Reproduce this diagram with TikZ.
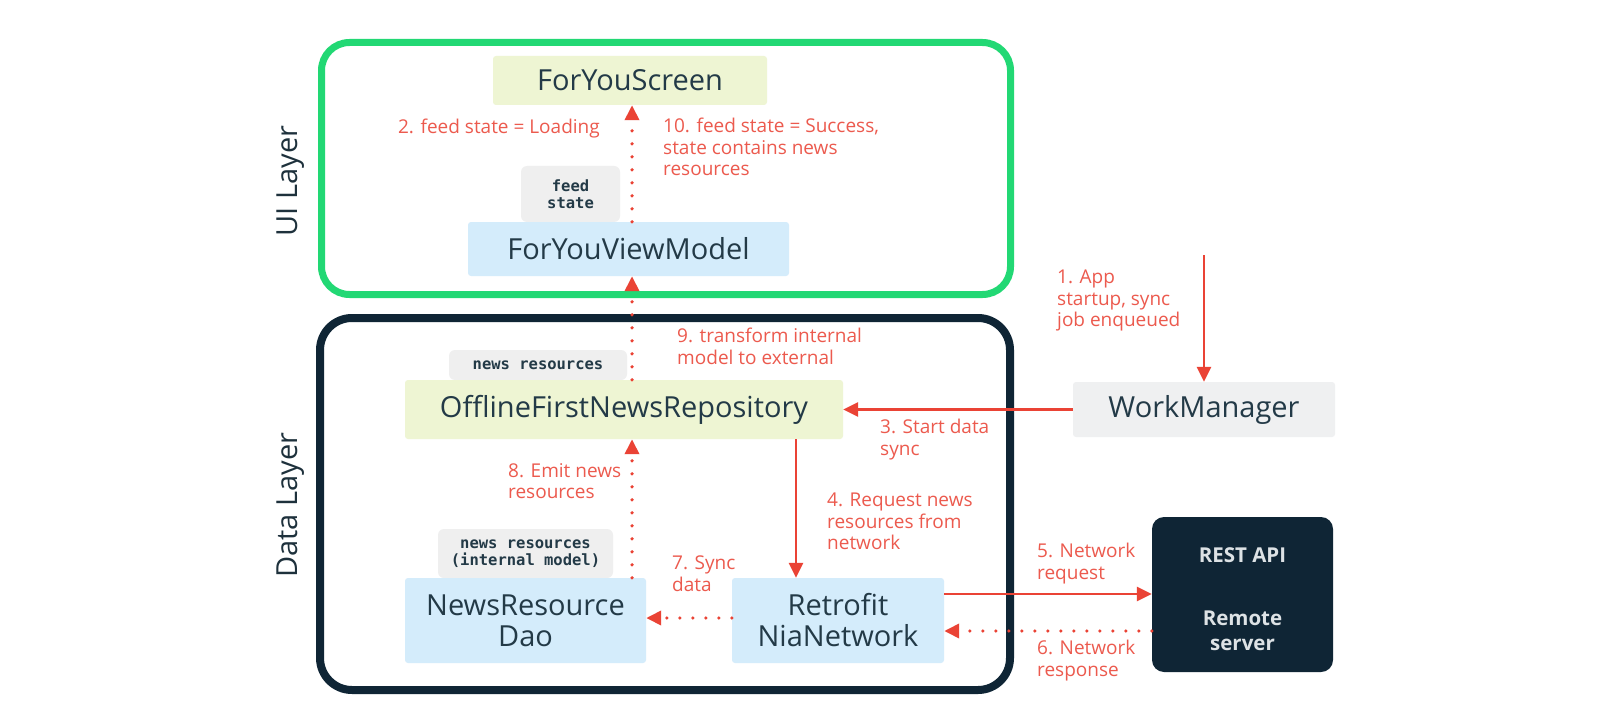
\documentclass[tikz,border=0pt]{standalone}
\usepackage{fontspec}
\setmainfont{Open Sans}
\newfontfamily\monof{DejaVu Sans Mono}
\usetikzlibrary{arrows.meta}
\definecolor{gbox}{HTML}{22D874}
\definecolor{dbox}{HTML}{0F2535}
\definecolor{ared}{HTML}{EA4335}
\definecolor{lred}{HTML}{EC5A4E}
\definecolor{ntext}{HTML}{233A47}
\definecolor{yfill}{HTML}{EEF5D3}
\definecolor{bfill}{HTML}{D4ECFB}
\definecolor{tfill}{HTML}{EFEFEF}
\definecolor{wfill}{HTML}{EFF0F1}
\definecolor{rtext}{HTML}{DDE2E5}
\tikzset{
  x=1pt, y=-1pt,
  mainbox/.style={rectangle, rounded corners=3pt, inner sep=0pt, text=ntext,
    font=\fontsize{29}{31}\selectfont, align=center},
  tagbox/.style={rectangle, rounded corners=6pt, fill=tfill, inner sep=0pt, text=ntext,
    font=\monof\bfseries\fontsize{15.5}{17}\selectfont, align=center},
  lbl/.style={inner sep=0pt, text=lred, font=\fontsize{19}{21.5}\selectfont, align=left},
  layerlbl/.style={inner sep=0pt, text=ntext!85!black, rotate=90, font=\fontsize{29}{32}\selectfont},
  resttext/.style={inner sep=0pt, text=rtext, font=\bfseries\fontsize{20.5}{25}\selectfont, align=center},
  solidarrow/.style={draw=ared, line width=2.6pt, -{Triangle[length=15pt,width=14pt]}},
  dotarrow/.style={draw=ared, line width=3.6pt, line cap=round, dash pattern=on 0pt off 13pt,
    -{Triangle[length=15pt,width=14pt]}},
}
\begin{document}
\begin{tikzpicture}
\useasboundingbox (0,0) rectangle (1600,722);
\fill[white] (0,0) rectangle (1600,722);
% layer frames
\draw[gbox, line width=7pt, rounded corners=28pt] (321.5,42.5) rectangle (1010.5,294.5);
\draw[dbox, line width=8pt, rounded corners=32pt] (320,318) rectangle (1010,690);
\node[layerlbl] (uil) at (291,181) {UI Layer};
\node[layerlbl] (dl) at (291,505) {Data Layer};
% tags (behind)
\node[tagbox, minimum width=99pt, minimum height=56pt] (fstag) at (570.5,194) {feed\\state};
\node[tagbox, minimum width=178pt, minimum height=30pt] (nrtag) at (538,365) {news resources};
\node[tagbox, minimum width=175pt, minimum height=49pt] (intag) at (525.5,553.5) {news resources\\(internal model)};
% main nodes
\node[mainbox, fill=yfill, minimum width=274pt, minimum height=49pt] (fys) at (630,80.5) {ForYouScreen};
\node[mainbox, fill=bfill, minimum width=321pt, minimum height=54pt] (fyvm) at (628.5,249) {ForYouViewModel};
\node[mainbox, fill=yfill, minimum width=438pt, minimum height=59pt] (repo) at (624,409.5) {OfflineFirstNewsRepository};
\node[mainbox, fill=bfill, minimum width=241pt, minimum height=85pt] (dao) at (525.5,620.5) {NewsResource\\Dao};
\node[mainbox, fill=bfill, minimum width=212pt, minimum height=85pt] (retro) at (838,620.5) {Retrofit\\NiaNetwork};
\node[mainbox, fill=wfill, minimum width=262pt, minimum height=55pt] (wm) at (1204,409.5) {WorkManager};
\node[rectangle, rounded corners=12pt, fill=dbox, minimum width=181pt, minimum height=155pt] (rest) at (1242.5,594.5) {};
\node[resttext] (restt) at (1242.5,555) {REST API};
\node[resttext] (remt) at (1242.5,631) {Remote\\server};
% helper coordinates
\coordinate (xa) at (632,0);
\coordinate (xb) at (796,0);
\coordinate (start1) at (1204,255);
\coordinate (yg) at (0,594);
\coordinate (yh) at (0,631);
\coordinate (yi) at (0,618);
% connectors
\draw[dotarrow] (fyvm.north -| xa) -- (fys.south -| xa);
\draw[dotarrow] (repo.north -| xa) -- (fyvm.south -| xa);
\draw[dotarrow] (dao.north -| xa) -- (repo.south -| xa);
\draw[solidarrow] (repo.south -| xb) -- (retro.north -| xb);
\draw[solidarrow] (wm.west) -- (repo.east);
\draw[solidarrow] (start1) -- (wm.north);
\draw[solidarrow] (retro.east |- yg) -- (rest.west |- yg);
\draw[dotarrow] (rest.west |- yh) -- (retro.east |- yh);
\draw[dotarrow] (retro.west |- yi) -- (dao.east |- yi);
% labels
\node[lbl, anchor=east] (l2) at (600,129) {2. feed state = Loading};
\node[lbl, anchor=north west] (l10) at (663,118) {10. feed state = Success,\\state contains news\\resources};
\node[lbl, anchor=north west] (l9) at (677,328) {9. transform internal\\model to external};
\node[lbl, anchor=north west] (l3) at (880,419) {3. Start data\\sync};
\node[lbl, anchor=north west] (l8) at (508,463) {8. Emit news\\resources};
\node[lbl, anchor=north west] (l4) at (827,493) {4. Request news\\resources from\\network};
\node[lbl, anchor=north west] (l7) at (672,556) {7. Sync\\data};
\node[lbl, anchor=north west] (l5) at (1037,543) {5. Network\\request};
\node[lbl, anchor=north west] (l6) at (1037,640) {6. Network\\response};
\node[lbl, anchor=north west] (l1) at (1057,270) {1. App\\startup, sync\\job enqueued};
\end{tikzpicture}
\end{document}
